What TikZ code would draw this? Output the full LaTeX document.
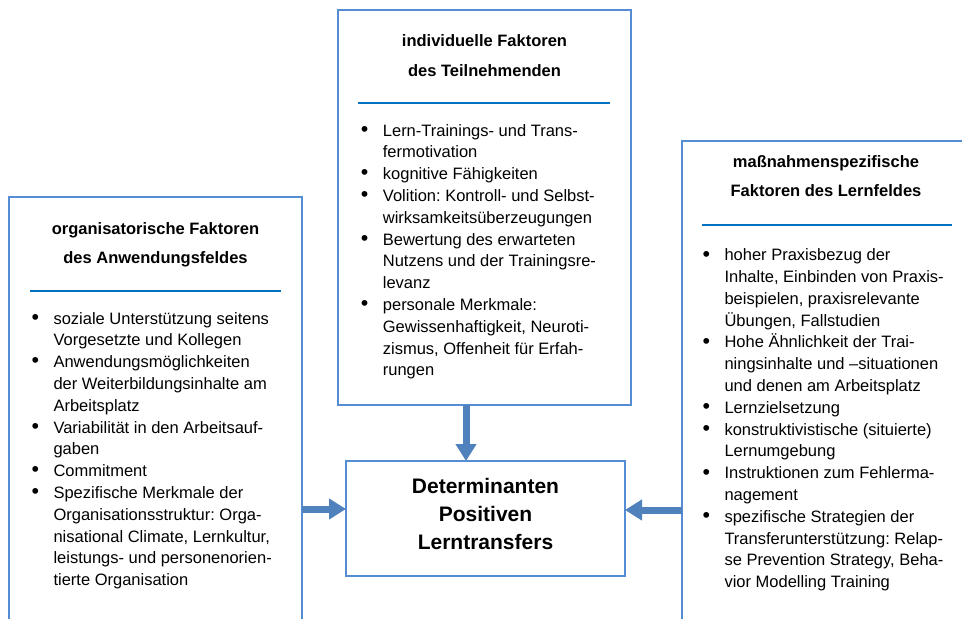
\documentclass[tikz,border=0pt]{standalone}
\usepackage{fontspec}
\setmainfont{Liberation Sans}
\usetikzlibrary{arrows.meta}
\definecolor{boxblue}{HTML}{548DD4}
\definecolor{arrowblue}{HTML}{4F81BD}
\definecolor{ruleblue}{HTML}{0070C0}
\newlength{\bulw}\setlength{\bulw}{22pt}
\newcommand{\bl}{\makebox[\bulw][l]{\raisebox{-0.3pt}{\scalebox{1.3}{\textbullet}}}}
\newcommand{\cl}{\hspace*{\bulw}}
\frenchspacing
\begin{document}
\begin{tikzpicture}[x=1pt,y=-1pt,
 box/.style={draw=boxblue,line width=2.2pt,inner sep=0pt,outer sep=0pt,anchor=north west,fill=white},
 hrule/.style={draw=ruleblue,line width=2.5pt},
 heading/.style={anchor=base,inner sep=0pt,font=\fontsize{16.5}{29.5}\selectfont\bfseries},
 body/.style={anchor=base west,inner sep=0pt,font=\frenchspacing\fontsize{16.5}{21.8}\selectfont},
 ctitle/.style={anchor=base,inner sep=0pt,font=\fontsize{21}{28}\selectfont\bfseries},
 arr/.style={draw=arrowblue,line width=7pt,-{Triangle[length=17pt,width=20pt]}},
]
\useasboundingbox (0,0) rectangle (962,619);
\fill[white] (0,0) rectangle (962,619);
\clip (0,0) rectangle (962,619);

% boxes
\node[box,minimum width=293pt,minimum height=395pt] (topbox) at (338,10) {};
\node[box,minimum width=293pt,minimum height=470pt] (leftbox) at (9,197) {};
\node[box,minimum width=330pt,minimum height=520pt] (rightbox) at (682,141) {};
\node[box,minimum width=279pt,minimum height=115pt] (center) at (346,461) {};

% headings
\node[heading] (toph) at (484.5,46.7) {\begin{tabular}[t]{@{}c@{}}individuelle Faktoren\\des Teilnehmenden\end{tabular}};
\node[heading] (lefth) at (155.5,234.3) {\begin{tabular}[t]{@{}c@{}}organisatorische Faktoren\\des Anwendungsfeldes\end{tabular}};
\node[heading] (righth) at (826,167.3) {\begin{tabular}[t]{@{}c@{}}maßnahmenspezifische\\Faktoren des Lernfeldes\end{tabular}};

% rules
\draw[hrule] (358,103) -- (610,103);
\draw[hrule] (30,291) -- (281,291);
\draw[hrule] (702,225) -- (952,225);

% bodies
\node[body] (topb) at (360.7,136) {\begin{tabular}[t]{@{}l@{}}
\bl Lern-Trainings- und Trans-\\
\cl fermotivation\\
\bl kognitive Fähigkeiten\\
\bl Volition: Kontroll- und Selbst-\\
\cl wirksamkeitsüberzeugungen\\
\bl Bewertung des erwarteten\\
\cl Nutzens und der Trainingsre-\\
\cl levanz\\
\bl personale Merkmale:\\
\cl Gewissenhaftigkeit, Neuroti-\\
\cl zismus, Offenheit für Erfah-\\
\cl rungen
\end{tabular}};

\node[body] (leftb) at (31.3,324) {\begin{tabular}[t]{@{}l@{}}
\bl soziale Unterstützung seitens\\
\cl Vorgesetzte und Kollegen\\
\bl Anwendungsmöglichkeiten\\
\cl der Weiterbildungsinhalte am\\
\cl Arbeitsplatz\\
\bl Variabilität in den Arbeitsauf-\\
\cl gaben\\
\bl Commitment\\
\bl Spezifische Merkmale der\\
\cl Organisationsstruktur: Orga-\\
\cl nisational Climate, Lernkultur,\\
\cl leistungs- und personenorien-\\
\cl tierte Organisation
\end{tabular}};

\node[body] (rightb) at (702.3,260.7) {\begin{tabular}[t]{@{}l@{}}
\bl hoher Praxisbezug der\\
\cl Inhalte, Einbinden von Praxis-\\
\cl beispielen, praxisrelevante\\
\cl Übungen, Fallstudien\\
\bl Hohe Ähnlichkeit der Trai-\\
\cl ningsinhalte und –situationen\\
\cl und denen am Arbeitsplatz\\
\bl Lernzielsetzung\\
\bl konstruktivistische (situierte)\\
\cl Lernumgebung\\
\bl Instruktionen zum Fehlerma-\\
\cl nagement\\
\bl spezifische Strategien der\\
\cl Transferunterstützung: Relap-\\
\cl se Prevention Strategy, Beha-\\
\cl vior Modelling Training
\end{tabular}};

% center text
\node[ctitle] (ctext) at (485.5,493.3) {\begin{tabular}[t]{@{}c@{}}Determinanten\\Positiven\\Lerntransfers\end{tabular}};

% arrows
\coordinate (ax) at (466,0);
\coordinate (ayl) at (0,509);
\coordinate (ayr) at (0,510);
\draw[arr] (topbox.south -| ax) -- (center.north -| ax);
\draw[arr] (leftbox.east |- ayl) -- (center.west |- ayl);
\draw[arr] (rightbox.west |- ayr) -- (center.east |- ayr);
\end{tikzpicture}
\end{document}
